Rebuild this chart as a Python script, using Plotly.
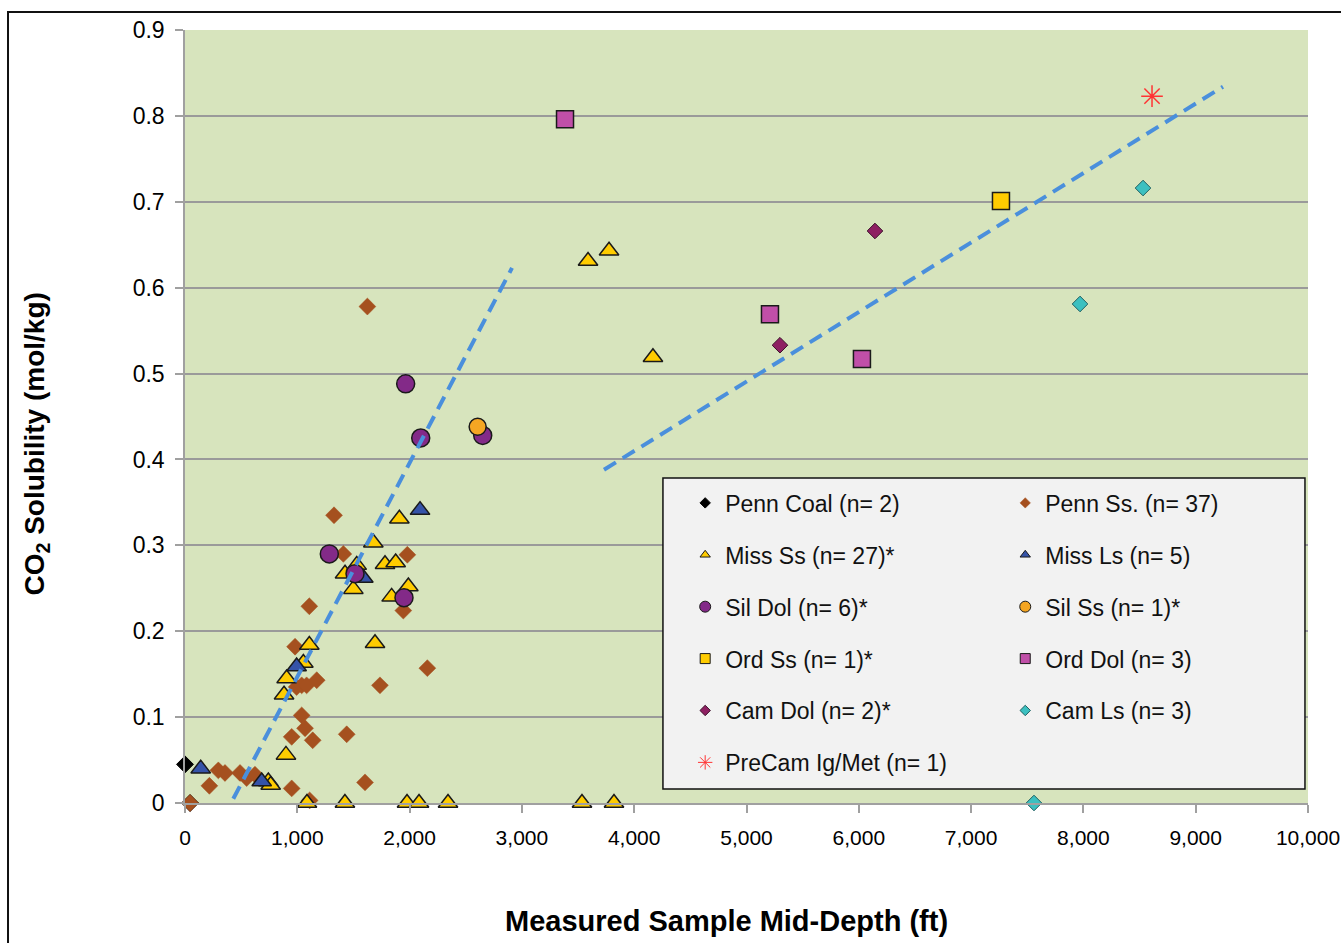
import plotly.graph_objects as go

# ---------------- data (depth ft, CO2 solubility mol/kg) ----------------
penn_coal_x = [0, 45]
penn_coal_y = [0.045, 0.0]

penn_ss_x = [45, 217, 297, 356, 490, 549, 623, 950, 1603, 1110,
             950, 1069, 1137, 1039, 1440, 994, 1039, 1083, 1173, 980,
             1736, 2158, 1107, 1944, 1410, 1980, 1327, 1624]
penn_ss_y = [0.0, 0.020, 0.038, 0.035, 0.035, 0.029, 0.033, 0.017, 0.024, 0.003,
             0.077, 0.087, 0.073, 0.102, 0.080, 0.135, 0.137, 0.137, 0.143, 0.182,
             0.137, 0.157, 0.229, 0.224, 0.290, 0.289, 0.335, 0.578]

miss_ss_x = [742, 763, 899, 882, 905, 1054, 1107, 1692, 1499, 1840,
             1989, 1425, 1529, 1677, 1781, 1876, 1909,
             1086, 1424, 1977, 2084, 2342, 3535, 3820,
             3589, 3776, 4167]
miss_ss_y = [0.025, 0.021, 0.056, 0.126, 0.145, 0.163, 0.184, 0.186, 0.249, 0.240,
             0.252, 0.267, 0.277, 0.303, 0.278, 0.280, 0.331,
             0.0, 0.0, 0.0, 0.0, 0.0, 0.0, 0.0,
             0.631, 0.643, 0.519]

miss_ls_x = [140, 683, 994, 1588, 2093]
miss_ls_y = [0.040, 0.025, 0.159, 0.262, 0.341]

sil_dol_x = [1285, 1514, 1950, 1965, 2099, 2651]
sil_dol_y = [0.290, 0.267, 0.239, 0.488, 0.425, 0.428]

sil_ss_x = [2606]
sil_ss_y = [0.438]

ord_ss_x = [7266]
ord_ss_y = [0.701]

ord_dol_x = [3384, 5209, 6028]
ord_dol_y = [0.796, 0.569, 0.517]

cam_dol_x = [6144, 5298]
cam_dol_y = [0.666, 0.533]

cam_ls_x = [8531, 7970, 7560]
cam_ls_y = [0.716, 0.581, 0.0]

precam_x = [8611]
precam_y = [0.823]

trend_shallow_x = [430, 2912]
trend_shallow_y = [0.005, 0.623]
trend_deep_x = [3731, 9243]
trend_deep_y = [0.388, 0.834]

x_ticks = [0, 1000, 2000, 3000, 4000, 5000, 6000, 7000, 8000, 9000, 10000]
y_ticks = [0, 0.1, 0.2, 0.3, 0.4, 0.5, 0.6, 0.7, 0.8, 0.9]

x_title = "Measured Sample Mid-Depth (ft)"
y_title = "CO<sub>2</sub> Solubility (mol/kg)"

# ---------------- styles ----------------
series = [
    # name, x, y, symbol, color, size, line color, line width, legend size, legend id
    ("Penn Coal (n= 2)", penn_coal_x, penn_coal_y, "diamond", "#000000", 13, "#000000", 1, 8, "legend"),
    ("Penn Ss. (n= 37)", penn_ss_x, penn_ss_y, "diamond", "#a5501f", 13, "#a5501f", 0.5, 8, "legend2"),
    ("Miss Ss (n= 27)*", miss_ss_x, miss_ss_y, "triangle-up", "#ffcc00", 17, "#1a1a1a", 1.5, 9, "legend"),
    ("Miss Ls (n= 5)", miss_ls_x, miss_ls_y, "triangle-up", "#3553a8", 17, "#1a1a1a", 1.5, 9, "legend2"),
    ("Sil Dol (n= 6)*", sil_dol_x, sil_dol_y, "circle", "#832a88", 18, "#1a1a1a", 1.5, 11, "legend"),
    ("Sil Ss (n= 1)*", sil_ss_x, sil_ss_y, "circle", "#f5a623", 17, "#1a1a1a", 1.5, 11, "legend2"),
    ("Ord Ss (n= 1)*", ord_ss_x, ord_ss_y, "square", "#ffcc00", 17, "#1a1a1a", 1.5, 10, "legend"),
    ("Ord Dol (n= 3)", ord_dol_x, ord_dol_y, "square", "#c04fa8", 17, "#1a1a1a", 1.5, 10, "legend2"),
    ("Cam Dol (n= 2)*", cam_dol_x, cam_dol_y, "diamond", "#8e2062", 12, "#3a1028", 1, 8, "legend"),
    ("Cam Ls (n= 3)", cam_ls_x, cam_ls_y, "diamond", "#3cc0c0", 12, "#1f5f60", 1, 8, "legend2"),
    ("PreCam Ig/Met (n= 1)", precam_x, precam_y, "asterisk-open", "#ff3333", 18, "#ff3333", 1.5, 12, "legend"),
]

fig = go.Figure()

for i, (name, xs, ys, sym, col, sz, lc, lw, lsz, leg) in enumerate(series):
    fig.add_trace(go.Scatter(
        x=xs, y=ys, mode="markers", name=name, showlegend=False,
        legendgroup="g%d" % i, cliponaxis=False,
        marker=dict(symbol=sym, color=col, size=sz, line=dict(color=lc, width=lw)),
        hoverinfo="x+y+name",
    ))

for xs, ys in [(trend_shallow_x, trend_shallow_y), (trend_deep_x, trend_deep_y)]:
    fig.add_trace(go.Scatter(
        x=xs, y=ys, mode="lines", showlegend=False, hoverinfo="skip",
        line=dict(color="#4a8fdc", width=4, dash="14px,8px"),
    ))

# legend entries (small symbols as in the original key)
for i, (name, xs, ys, sym, col, sz, lc, lw, lsz, leg) in enumerate(series):
    fig.add_trace(go.Scatter(
        x=[None], y=[None], mode="markers", name=name, legend=leg,
        legendgroup="g%d" % i, showlegend=True,
        marker=dict(symbol=sym, color=col, size=lsz,
                    line=dict(color=lc, width=min(lw, 1))),
    ))

legend_common = dict(
    xanchor="left", yanchor="top", bgcolor="rgba(0,0,0,0)", borderwidth=0,
    font=dict(size=23, color="#111111", family="Arial, Liberation Sans, sans-serif"),
    tracegroupgap=19, itemsizing="trace", orientation="v",
)

fig.update_layout(
    width=1341, height=943,
    margin=dict(l=185, r=33, t=30, b=140),
    paper_bgcolor="white", plot_bgcolor="#d7e4bd",
    font=dict(family="Arial, Liberation Sans, sans-serif", color="black"),
    xaxis=dict(
        range=[0, 10000], tickvals=x_ticks, tickformat=",d", automargin=False,
        showgrid=False, zeroline=False,
        showline=True, linecolor="#a0a0a0", linewidth=1.5,
        ticks="outside", ticklen=8, tickcolor="#a0a0a0", tickwidth=1.5,
        tickfont=dict(size=21), ticklabelstandoff=7,
    ),
    yaxis=dict(
        range=[0, 0.9], tickvals=y_ticks, automargin=False,
        showgrid=True, gridcolor="#9a9a9a", gridwidth=1.5, zeroline=False,
        showline=True, linecolor="#a0a0a0", linewidth=1.5,
        ticks="outside", ticklen=8, tickcolor="#a0a0a0", tickwidth=1.5,
        tickfont=dict(size=23), ticklabelstandoff=6,
    ),
    legend=dict(x=0.4454, y=0.416, **legend_common),
    legend2=dict(x=0.7304, y=0.416, **legend_common),
    annotations=[
        dict(text=x_title, xref="paper", yref="paper", x=0.482, y=-0.1527,
             xanchor="center", yanchor="middle", showarrow=False,
             font=dict(size=29, weight="bold", color="black")),
        dict(text=y_title, xref="paper", yref="paper", x=-0.1318, y=0.465,
             xanchor="center", yanchor="middle", showarrow=False, textangle=-90,
             font=dict(size=28, weight="bold", color="black")),
    ],
    shapes=[
        dict(type="rect", xref="paper", yref="paper",
             x0=0.4256, x1=0.9973, y0=0.0181, y1=0.4204,
             fillcolor="#f2f2f2", line=dict(color="#111111", width=1.5),
             layer="above"),
        dict(type="rect", xref="paper", yref="paper",
             x0=-0.1576, x1=1.06, y0=-0.25, y1=1.0233,
             fillcolor="rgba(0,0,0,0)", line=dict(color="#111111", width=2),
             layer="above"),
    ],
)

fig.write_html(
    "out.html",
    config={"displayModeBar": False},
    post_script="document.body.style.margin='0';document.body.style.overflow='hidden';",
)
